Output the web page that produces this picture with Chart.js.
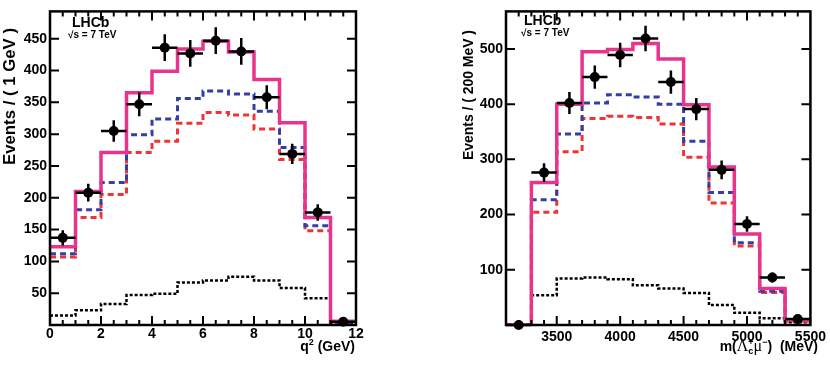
<!DOCTYPE html>
<html>
<head>
<meta charset="utf-8">
<script src="https://cdn.jsdelivr.net/npm/chart.js@4.4.0/dist/chart.umd.min.js"></script>
<style>
  html, body { margin: 0; padding: 0; background: #fff; }
  #wrap { position: relative; width: 830px; height: 365px; overflow: hidden; }
  .box { position: absolute; top: 0; width: 375px; height: 365px; }
  #boxQ { left: 0; }
  #boxM { left: 455px; }
</style>
</head>
<body>
<div id="wrap">
  <div class="box" id="boxQ"><canvas id="chartQ" width="375" height="365"></canvas></div>
  <div class="box" id="boxM"><canvas id="chartM" width="375" height="365"></canvas></div>
</div>
<script>
// ---- q^2 panel: 1 GeV bins from 0 to 12 ----
const qEdges = [0, 1, 2, 3, 4, 5, 6, 7, 8, 9, 10, 11, 12];
const qData  = [137, 208, 305, 347, 436, 427, 447, 430, 358, 269, 177, 5];
const qErr   = [12, 14, 17, 19, 21, 21, 21, 21, 19, 16, 13, 2];
const qTotal = [123, 210, 271, 365, 399, 434, 446, 429, 386, 318, 169, 6];
const qBlue  = [112, 181, 224, 299, 324, 356, 368, 363, 336, 279, 156, 4];
const qRed   = [107, 169, 205, 271, 289, 317, 334, 330, 308, 260, 148, 3];
const qBkg   = [15, 23, 33, 47, 49, 67, 70, 76, 70, 58, 42, 3];
const qXTicks = [0, 2, 4, 6, 8, 10, 12];
const qYTicks = [50, 100, 150, 200, 250, 300, 350, 400, 450];

// ---- m(Lc mu) panel: 200 MeV bins from 3100 to 5500 ----
const mEdges = [3100, 3300, 3500, 3700, 3900, 4100, 4300, 4500, 4700, 4900, 5100, 5300, 5500];
const mData  = [0, 276, 402, 449, 489, 519, 440, 391, 281, 183, 86, 11];
const mErr   = [0, 17, 20, 21, 22, 23, 21, 20, 17, 14, 9, 3];
const mTotal = [0, 258, 400, 495, 499, 510, 482, 399, 286, 165, 66, 9];
const mBlue  = [0, 227, 346, 402, 417, 413, 400, 333, 240, 149, 61, 8];
const mRed   = [0, 204, 314, 374, 378, 376, 364, 304, 221, 143, 59, 7];
const mBkg   = [0, 54, 84, 86, 83, 72, 66, 58, 36, 22, 12, 5];
const mXTicks = [3500, 4000, 4500, 5000, 5500];
const mYTicks = [100, 200, 300, 400, 500];

const SANS = '"Liberation Sans", Arial, Helvetica, sans-serif';
const PINK = 'rgb(232, 52, 140)';
const BLUE = 'rgb(52, 62, 165)';
const RED = 'rgb(238, 52, 52)';

function histPoints(edges, vals) {
  return edges.map((e, i) => ({ x: e, y: vals[Math.min(i, vals.length - 1)] }));
}

function hist(edges, vals, color, width, dash, order) {
  return {
    type: 'line', data: histPoints(edges, vals), stepped: 'before',
    borderColor: color, borderWidth: width, borderDash: dash,
    pointRadius: 0, fill: false, order: order
  };
}

function drawVertical(ctx, text, font, x, yStart, length) {
  ctx.save();
  ctx.font = font;
  ctx.translate(x, yStart);
  ctx.rotate(-Math.PI / 2);
  const w = ctx.measureText(text).width;
  ctx.scale(length / w, 1);
  ctx.textAlign = 'left';
  ctx.textBaseline = 'alphabetic';
  ctx.fillText(text, 0, 0);
  ctx.restore();
}

function richText(ctx, parts, right, base) {
  const widths = parts.map(p => {
    ctx.font = p.font;
    let w = ctx.measureText(p.t).width;
    if (p.sub) { ctx.font = p.subFont; w = Math.max(w, ctx.measureText(p.sub).width); }
    return w;
  });
  let x = right - widths.reduce((s, w) => s + w, 0);
  ctx.textAlign = 'left';
  ctx.textBaseline = 'alphabetic';
  parts.forEach((p, i) => {
    ctx.font = p.font;
    ctx.fillText(p.t, x, base + (p.dy || 0));
    if (p.sub) { ctx.font = p.subFont; ctx.fillText(p.sub, x, base + p.subDy); }
    x += widths[i];
  });
}

// ROOT style frame, inward ticks, error bars and labels
const rootStyle = {
  id: 'rootStyle',
  afterDatasetsDraw(chart) {
    const { ctx, scales: { x, y } } = chart;
    const ds = chart.data.datasets[0];
    ctx.save();
    ctx.strokeStyle = '#000';
    ctx.lineWidth = 2.5;
    ds.data.forEach((p, i) => {
      const px = x.getPixelForValue(p.x), py = y.getPixelForValue(p.y);
      ctx.beginPath();
      ctx.moveTo(x.getPixelForValue(p.x - ds.halfW), py);
      ctx.lineTo(x.getPixelForValue(p.x + ds.halfW), py);
      ctx.moveTo(px, y.getPixelForValue(p.y - ds.errY[i]));
      ctx.lineTo(px, y.getPixelForValue(p.y + ds.errY[i]));
      ctx.stroke();
    });
    ctx.restore();
  },
  afterDraw(chart, args, o) {
    const { ctx, chartArea: a, scales: { x, y } } = chart;
    ctx.save();
    ctx.strokeStyle = '#000';
    ctx.fillStyle = '#000';
    ctx.lineWidth = 2.5;
    ctx.strokeRect(a.left, a.top, a.right - a.left, a.bottom - a.top);
    ctx.lineWidth = 2;
    ctx.beginPath();
    for (let v = x.min + o.xMinor; v < x.max - 1e-9; v += o.xMinor) {
      const px = x.getPixelForValue(v);
      const major = o.xTicks.some(t => Math.abs(t - v) < 1e-6);
      const len = major ? 9 : 5;
      ctx.moveTo(px, a.bottom); ctx.lineTo(px, a.bottom - len);
      ctx.moveTo(px, a.top); ctx.lineTo(px, a.top + len);
    }
    o.yTicks.forEach(v => {
      const py = y.getPixelForValue(v);
      ctx.moveTo(a.left, py); ctx.lineTo(a.left + 9, py);
      ctx.moveTo(a.right, py); ctx.lineTo(a.right - 9, py);
    });
    ctx.stroke();

    ctx.textAlign = 'left';
    ctx.textBaseline = 'alphabetic';
    ctx.font = 'bold 14px ' + SANS;
    ctx.fillText('LHCb', o.lhcb[0], o.lhcb[1]);
    ctx.font = 'bold 10px ' + SANS;
    ctx.fillText('\u221As = 7 TeV', o.sqrts[0], o.sqrts[1]);

    drawVertical(ctx, o.yTitle, 'bold ' + o.yTitleSize + 'px ' + SANS, o.yTitlePos[0], o.yTitlePos[1], o.yTitlePos[2]);
    richText(ctx, o.xTitle, o.xTitlePos[0], o.xTitlePos[1]);
    ctx.restore();
  }
};

function makeChart(id, edges, data, err, total, blue, red, bkg, xTicks, yTicks, yMax, style) {
  const halfW = (edges[1] - edges[0]) / 2;
  const pts = data.map((v, i) => ({ x: edges[i] + halfW, y: v }));
  const tickFont = { family: SANS, size: 14, weight: 'bold' };
  return new Chart(document.getElementById(id), {
    type: 'scatter',
    data: {
      datasets: [
        { type: 'scatter', data: pts, errY: err, halfW: halfW, pointRadius: 5, pointHoverRadius: 5,
          backgroundColor: '#000', borderColor: '#000', borderWidth: 0, clip: false, order: 0 },
        hist(edges, total, PINK, 3.5, [], 1),
        hist(edges, blue, BLUE, 3, [6, 4], 2),
        hist(edges, red, RED, 3, [6, 4], 3),
        hist(edges, bkg, '#000', 2.5, [3, 2], 4)
      ]
    },
    options: {
      responsive: false,
      animation: false,
      layout: { padding: { top: 1, right: 19, left: 0, bottom: 0 } },
      plugins: { legend: { display: false }, tooltip: { enabled: false }, rootStyle: style },
      scales: {
        x: {
          type: 'linear', min: edges[0], max: edges[edges.length - 1],
          grid: { display: false, drawTicks: false }, border: { display: false },
          ticks: { font: tickFont, color: '#000', padding: style.xPad, maxRotation: 0, callback: v => String(v) },
          afterBuildTicks: s => { s.ticks = xTicks.map(v => ({ value: v })); },
          afterFit: s => { s.height = 40; }
        },
        y: {
          type: 'linear', min: 0, max: yMax,
          grid: { display: false, drawTicks: false }, border: { display: false },
          ticks: { font: tickFont, color: '#000', padding: 3, callback: v => String(v) },
          afterBuildTicks: s => { s.ticks = yTicks.map(v => ({ value: v })); },
          afterFit: s => { s.width = style.yWidth; }
        }
      }
    },
    plugins: [rootStyle]
  });
}

const B14 = 'bold 14px ' + SANS;
const B9 = 'bold 9px ' + SANS;
const G15 = '16px "Liberation Serif", "DejaVu Serif", serif';

makeChart('chartQ', qEdges, qData, qErr, qTotal, qBlue, qRed, qBkg, qXTicks, qYTicks, 493, {
  xMinor: 0.5, xTicks: qXTicks, yTicks: qYTicks, xPad: 1, yWidth: 50,
  lhcb: [72, 27], sqrts: [68, 38],
  yTitle: 'Events / ( 1 GeV )', yTitleSize: 17, yTitlePos: [15, 165, 137],
  xTitle: [{ t: 'q', font: B14 }, { t: '2', font: B9, dy: -6 }, { t: ' (GeV)', font: B14 }],
  xTitlePos: [355, 351]
});

makeChart('chartM', mEdges, mData, mErr, mTotal, mBlue, mRed, mBkg, mXTicks, mYTicks, 568, {
  xMinor: 100, xTicks: mXTicks, yTicks: mYTicks, xPad: 4, yWidth: 51,
  lhcb: [69, 25], sqrts: [66, 36],
  yTitle: 'Events / ( 200 MeV )', yTitleSize: 14, yTitlePos: [18, 160, 130],
  xTitle: [{ t: 'm(', font: B14 }, { t: '\u039B', font: G15 },
           { t: '+', font: B9, dy: -6, sub: 'c', subFont: B9, subDy: 3 },
           { t: '\u03BC', font: G15 }, { t: '\u2212', font: B9, dy: -6 },
           { t: ')  (MeV)', font: B14 }],
  xTitlePos: [363, 351]
});
</script>
</body>
</html>
